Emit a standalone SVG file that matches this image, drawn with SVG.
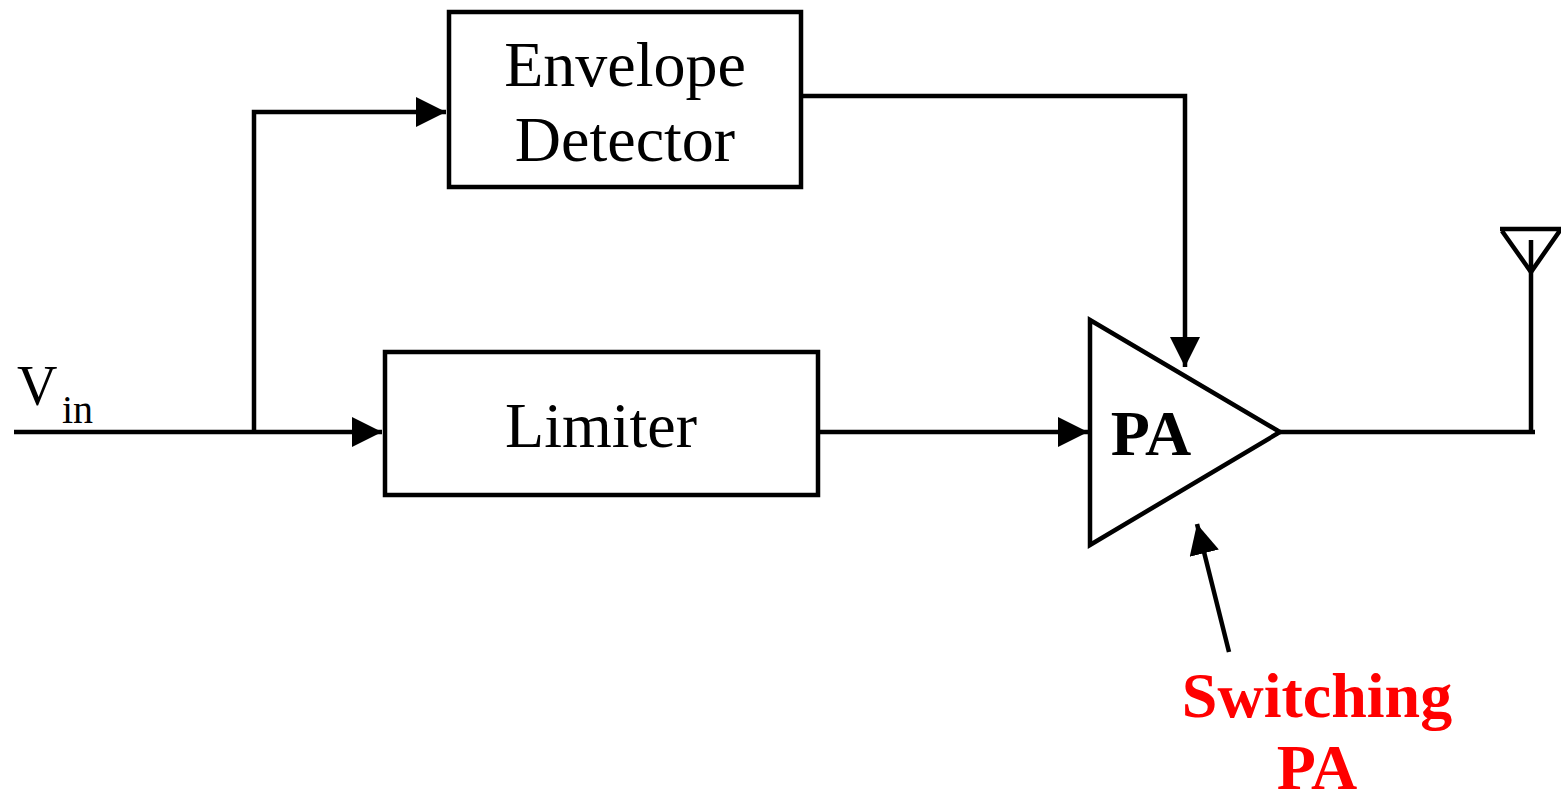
<svg xmlns="http://www.w3.org/2000/svg" width="1561" height="800" viewBox="0 0 1561 800">
<style>
.box{fill:#fff;stroke:#000;stroke-width:4.5}
.ln{fill:none;stroke:#000;stroke-width:4.5}
.t{font-family:"Liberation Serif",serif;font-size:64px;fill:#000;text-anchor:middle}
.b{font-weight:bold}
.red{fill:#ff0000}
</style>
<defs>
<marker id="ah" markerWidth="32" markerHeight="32" refX="30" refY="15" orient="auto" markerUnits="userSpaceOnUse">
<path d="M0,0 L30,15 L0,30 Z" fill="#000"/>
</marker>
</defs>
<rect width="1561" height="800" fill="#fff"/>
<g id="connectors">
<path class="ln" d="M14,432 L382,432" marker-end="url(#ah)"/>
<path class="ln" d="M254,432 L254,112 L446,112" marker-end="url(#ah)"/>
<path class="ln" d="M801,96 L1185,96 L1185,367" marker-end="url(#ah)"/>
<path class="ln" d="M818,432 L1088,432" marker-end="url(#ah)"/>
<path class="ln" d="M1280,432 L1535,432"/>
<path class="ln" d="M1531,432 L1531,240"/>
<path class="ln" d="M1229,652 L1197,524" marker-end="url(#ah)"/>
</g>
<g id="envelope">
<rect class="box" x="449" y="12" width="352" height="175"/>
<text class="t" x="625" y="86">Envelope</text>
<text class="t" x="625" y="161">Detector</text>
</g>
<g id="limiter">
<rect class="box" x="385" y="352" width="433" height="143"/>
<text class="t" x="601" y="447">Limiter</text>
</g>
<g id="pa">
<path class="box" d="M1090,320 L1090,545 L1280,432 Z"/>
<text class="t b" x="1151" y="455">PA</text>
</g>
<g id="antenna">
<path class="ln" d="M1500,229 L1561,229 M1502,231 L1531,272 L1561,229"/>
</g>
<g id="vin">
<text x="17" y="405" style="font-family:'Liberation Serif',serif;font-size:56px">V</text>
<text x="62" y="423" style="font-family:'Liberation Serif',serif;font-size:40px">in</text>
</g>
<g id="switching">
<text class="t b red" x="1317" y="717">Switching</text>
<text class="t b red" x="1317" y="789">PA</text>
</g>
</svg>
